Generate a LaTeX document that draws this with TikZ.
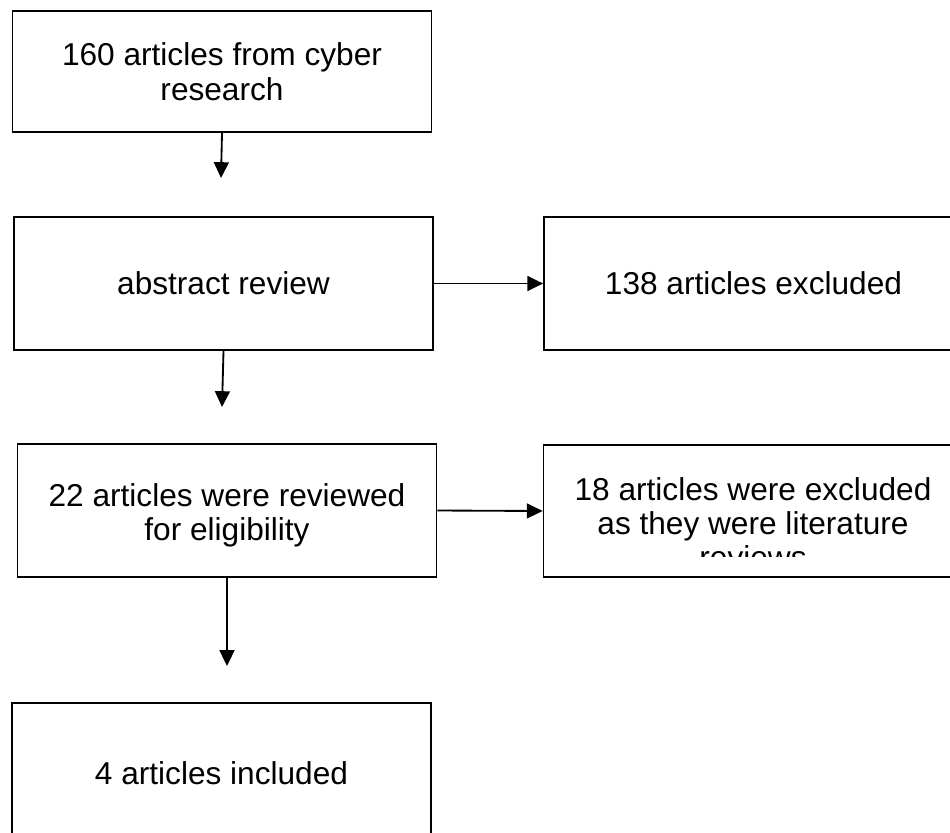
\documentclass[tikz,border=0pt]{standalone}
\usepackage{fontspec}
\setmainfont{Liberation Sans}
\usetikzlibrary{arrows.meta}
\tikzset{
	stagebox/.style={draw, line width=1.05pt, rectangle, inner sep=0pt, minimum width=8.38cm, align=center, font=\fontsize{18}{20}\selectfont},
	flowarrow/.style={-{Triangle[length=9pt,width=8.5pt]}, line width=1.05pt}
}
\begin{document}
\begin{tikzpicture}[x=0.02cm,y=-0.02cm]
	\useasboundingbox (0,0) rectangle (950,832);
	\begin{scope}
		\clip (0,0) rectangle (950,832);
		\node[stagebox, minimum height=2.42cm] (search) at (222,71.5) {160 articles from cyber\\research};
		\node[stagebox, minimum height=2.66cm] (abstract) at (223.5,283.5) {abstract review};
		\node[stagebox, minimum height=2.66cm] (excludedA) at (753.5,283.5) {138 articles excluded};
		\node[stagebox, minimum height=2.66cm] (eligible) at (227,510.5) {};
		\node[align=center, inner sep=0pt, font=\fontsize{18}{19.5}\selectfont] (eligibletext) at (227,515) {22 articles were reviewed\\for eligibility};
		\node[stagebox, minimum height=2.64cm] (excludedB) at (753,511) {};
		\begin{scope}
			\clip (543,445) rectangle (963,556);
			\node[align=center, inner sep=0pt, font=\fontsize{18}{19.5}\selectfont] (excludedBtext) at (753,523) {18 articles were excluded\\as they were literature\\reviews};
		\end{scope}
		\node[stagebox, minimum height=2.8cm] (included) at (221.5,773) {4 articles included};
		\coordinate (toabstract) at (221,178);
		\coordinate (toeligible) at (222,407);
		\coordinate (toincluded) at (227,666);
		\draw[flowarrow] (search.south) -- (toabstract);
		\draw[flowarrow] (abstract.south) -- (toeligible);
		\draw[flowarrow] (eligible.south) -- (toincluded);
		\draw[flowarrow] (abstract.east) -- (excludedA.west);
		\draw[flowarrow] (eligible.east) -- (excludedB.west);
	\end{scope}
\end{tikzpicture}
\end{document}
